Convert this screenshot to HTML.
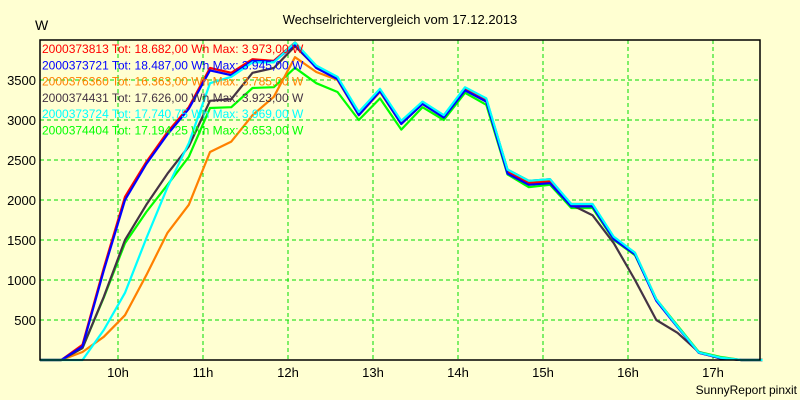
<!DOCTYPE html>
<html><head><meta charset="utf-8"><style>
body{margin:0;background:#ffffd2;}
svg{display:block;font-family:"Liberation Sans",sans-serif;}
</style></head><body>
<svg id="c" width="800" height="400">
<rect width="800" height="400" fill="#ffffd2"/>
<text x="400" y="24" text-anchor="middle" font-size="13">Wechselrichtervergleich vom 17.12.2013</text>
<text x="35" y="30" font-size="14">W</text>
<text x="797" y="394" text-anchor="end" font-size="12">SunnyReport pinxit</text>
<g id="grid"></g><g id="lines"></g><g id="legend"></g>
<rect x="40" y="40" width="720" height="320" fill="none" stroke="#000" stroke-width="1.5"/>
</svg>
<script>
const yTicks=[500,1000,1500,2000,2500,3000,3500];
const xTickLabels=["10h","11h","12h","13h","14h","15h","16h","17h"];
const xTickHours=[10,11,12,13,14,15,16,17];
const names=["2000373813","2000373721","2000376360","2000374431","2000373724","2000374404"];
const totals=["18.682,00","18.487,00","16.363,00","17.626,00","17.740,75","17.194,25"];
const maxes=["3.973,00","3.945,00","3.785,00","3.923,00","3.969,00","3.653,00"];
const colors=["#ff0000","#0000ff","#ff8000","#443344","#00ffff","#00ff00"];
const sRed=[0,0,190,1150,2040,2475,2850,3160,3650,3590,3760,3740,3970,3660,3520,3080,3370,2960,3210,3040,3385,3250,2350,2210,2230,1940,1940,1520,1330,750,415,90,25,0,0];
const sBlue=[0,0,170,1120,2000,2450,2820,3140,3620,3560,3740,3730,3945,3650,3510,3060,3360,2950,3200,3030,3370,3230,2330,2190,2210,1920,1920,1510,1320,740,410,90,25,0,0];
const sOrange=[0,0,100,290,560,1060,1590,1940,2600,2730,3060,3290,3785,3600,3500,3060,3350,2950,3200,3030,3380,3250,2360,2220,2240,1950,1950,1530,1340,760,420,95,30,0,0];
const sBlack=[0,0,150,790,1500,1940,2330,2670,3240,3260,3590,3650,3923,3660,3530,3090,3380,2980,3220,3050,3400,3260,2380,2240,2260,1940,1810,1460,1000,500,340,100,20,0,0];
const sCyan=[0,0,0,375,840,1520,2160,2710,3460,3540,3720,3720,3969,3680,3540,3100,3390,2990,3230,3060,3410,3270,2380,2240,2260,1950,1950,1540,1340,760,420,95,30,0,0];
const sGreen=[0,0,150,780,1460,1850,2190,2540,3150,3160,3400,3410,3653,3460,3350,3000,3270,2880,3160,3000,3340,3190,2320,2160,2190,1900,1900,1500,1310,760,430,100,40,0,0];
const series=[sRed,sBlue,sOrange,sBlack,sCyan,sGreen];
const x0=40,y0=360,pxHour=85,startHour=10-78/85;
const xS=h=>x0+(h-startHour)*pxHour;
const xI=i=>xS(startHour+i*0.25);
const yS=v=>y0-v*0.08;
const NS="http://www.w3.org/2000/svg";
function mk(t,a,p){const e=document.createElementNS(NS,t);for(const k in a)e.setAttribute(k,a[k]);p.appendChild(e);return e;}
const g=document.getElementById('grid');
yTicks.forEach(v=>{
 const l=mk('line',{x1:40,x2:760,y1:yS(v),y2:yS(v),stroke:'#00dd00','stroke-dasharray':'4,3'},g);
 
 
 const t=mk('text',{x:36,y:yS(v)+5,'text-anchor':'end','font-size':13},g);t.textContent=v;
 
 
});
xTickHours.forEach((h,i)=>{
 const l=mk('line',{x1:xS(h),x2:xS(h),y1:40,y2:360,stroke:'#00dd00','stroke-dasharray':'4,3'},g);
 
 
 const t=mk('text',{x:xS(h),y:377,'text-anchor':'middle','font-size':13},g);t.textContent=xTickLabels[i];
 
 
});
const lg=document.getElementById('lines');
[5,2,3,0,1,4].forEach(k=>{
 const pts=series[k].map((v,i)=>xI(i).toFixed(1)+','+yS(v).toFixed(1)).join(' ');
 const p=mk('polyline',{points:pts,fill:'none',stroke:colors[k],'stroke-width':2.2,'stroke-linejoin':'round'},lg);
 
 
});
const leg=document.getElementById('legend');
names.forEach((n,k)=>{
 const t=mk('text',{x:42,y:53+k*16.3,'font-size':12,fill:colors[k]},leg);
 t.textContent=n+' Tot: '+totals[k]+' Wh Max: '+maxes[k]+' W';
 
 
});
</script>
</body></html>
